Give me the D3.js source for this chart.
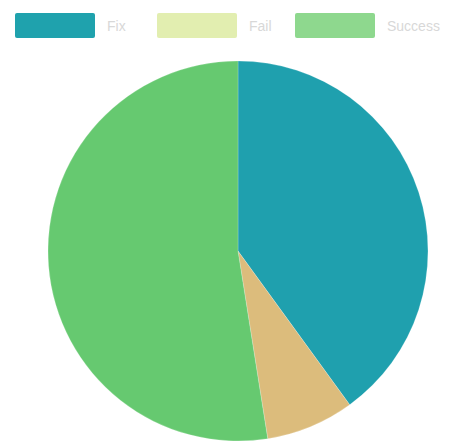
<!DOCTYPE html>
<html>
<head>
<meta charset="utf-8">
<script src="https://cdn.jsdelivr.net/npm/d3@7"></script>
<style>
  body { margin: 0; background: #fff; }
  svg { display: block; }
</style>
</head>
<body>
<div id="chart"></div>
<script>
// 資料
const labels = ["Fix", "Fail", "Success"];
const values = [16, 3, 21];

const width = 455, height = 448;
const colors = ["#1fa0ae", "#dcbc7c", "#66c970"];
const legendColors = ["#1fa2ad", "#e2eeb0", "#8ed88e"];

const svg = d3.select("#chart").append("svg")
  .attr("width", width)
  .attr("height", height);

// 圓餅圖
const cx = 238, cy = 251, r = 190;
const pie = d3.pie().sort(null).value(d => d);
const arc = d3.arc().innerRadius(0).outerRadius(r);

svg.append("g")
  .attr("transform", `translate(${cx},${cy})`)
  .selectAll("path")
  .data(pie(values))
  .join("path")
  .attr("d", arc)
  .attr("fill", (d, i) => colors[i])
  .attr("stroke", "rgba(255,255,255,0.4)")
  .attr("stroke-width", 0.5);

// 圖例
const legendX = [15, 157, 295];
const legend = svg.append("g")
  .selectAll("g")
  .data(labels)
  .join("g")
  .attr("transform", (d, i) => `translate(${legendX[i]},13)`);

legend.append("rect")
  .attr("width", 80)
  .attr("height", 25)
  .attr("rx", 2)
  .attr("fill", (d, i) => legendColors[i]);

legend.append("text")
  .attr("x", 92)
  .attr("y", 18)
  .attr("font-family", "Helvetica, Arial, sans-serif")
  .attr("font-size", 14)
  .attr("fill", "#d8d8d8")
  .text(d => d);
</script>
</body>
</html>
